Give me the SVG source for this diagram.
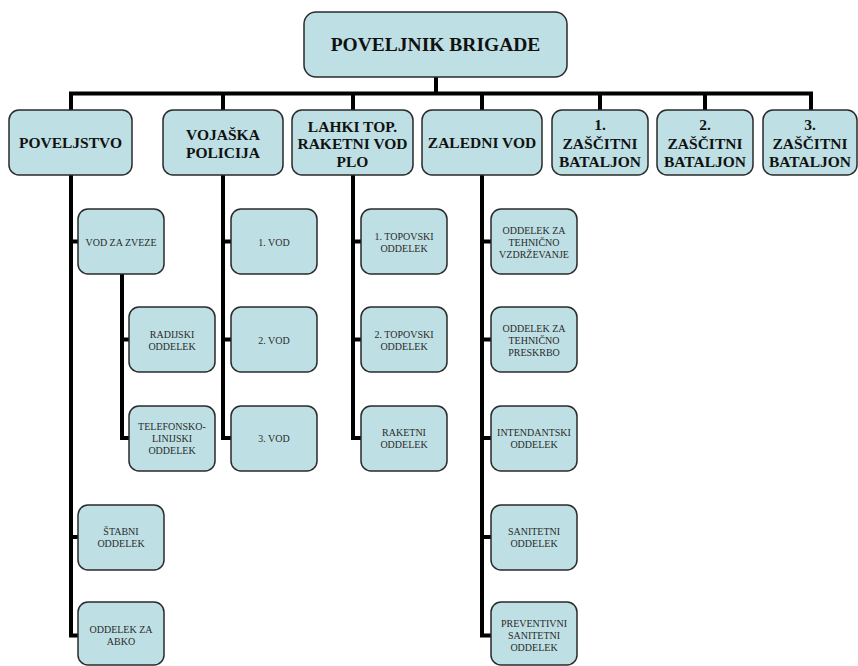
<svg xmlns="http://www.w3.org/2000/svg" width="858" height="666" viewBox="0 0 858 666">
<style>
.b{fill:#bee0e4;stroke:#2a2a2a;stroke-width:1.5}
text{font-family:'Liberation Serif',Tinos,'Times New Roman',Times,'DejaVu Serif',serif;text-anchor:middle}
.t1{font-weight:bold;font-size:19.5px;fill:#111}
.t2{font-weight:bold;font-size:15.5px;fill:#111}
.t3{font-size:10px;fill:#2a2a2a}
.c{fill:none;stroke:#000;stroke-width:4}
</style>
<rect width="858" height="666" fill="#fff"/>
<g id="connectors">
<path class="c" d="M436 77V93.5M69 93.5H813M71 93.5V110M223 93.5V110M353 93.5V110M482 93.5V110M600 93.5V110M705 93.5V110M811 93.5V110"/>
<path class="c" d="M71 175V635.5H78M71 241.5H78M71 537H78"/>
<path class="c" d="M122 274V438H129M122 339.5H129"/>
<path class="c" d="M223 175V438H231M223 241.5H231M223 339.5H231"/>
<path class="c" d="M353 175V438H361M353 241.5H361M353 339.5H361"/>
<path class="c" d="M482 175V635.5H491M482 241.5H491M482 339.5H491M482 438H491M482 537H491"/>
</g>
<g id="n0"><rect class="b" x="304" y="12" width="263" height="65" rx="12"/><text class="t1" x="435.5" y="51">POVELJNIK BRIGADE</text></g>
<g id="n1"><rect class="b" x="9" y="110" width="123" height="65" rx="10"/><text class="t2" x="70.5" y="148">POVELJSTVO</text></g>
<g id="n2"><rect class="b" x="163" y="110" width="120" height="65" rx="10"/><text class="t2" x="223" y="140">VOJAŠKA</text><text class="t2" x="223" y="158">POLICIJA</text></g>
<g id="n3"><rect class="b" x="292" y="110" width="121" height="65" rx="10"/><text class="t2" x="352.5" y="131.5">LAHKI TOP.</text><text class="t2" x="352.5" y="149">RAKETNI VOD</text><text class="t2" x="352.5" y="166.5">PLO</text></g>
<g id="n4"><rect class="b" x="422" y="110" width="120" height="65" rx="10"/><text class="t2" x="482" y="148">ZALEDNI VOD</text></g>
<g id="n5"><rect class="b" x="552" y="110" width="96" height="65" rx="10"/><text class="t2" x="600" y="129.5">1.</text><text class="t2" x="600" y="148.5">ZAŠČITNI</text><text class="t2" x="600" y="167">BATALJON</text></g>
<g id="n6"><rect class="b" x="657" y="110" width="96" height="65" rx="10"/><text class="t2" x="705" y="129.5">2.</text><text class="t2" x="705" y="148.5">ZAŠČITNI</text><text class="t2" x="705" y="167">BATALJON</text></g>
<g id="n7"><rect class="b" x="763" y="110" width="94" height="65" rx="10"/><text class="t2" x="810" y="129.5">3.</text><text class="t2" x="810" y="148.5">ZAŠČITNI</text><text class="t2" x="810" y="167">BATALJON</text></g>
<g id="n8"><rect class="b" x="78" y="209" width="86" height="65" rx="10"/><text class="t3" x="121" y="245.5">VOD ZA ZVEZE</text></g>
<g id="n9"><rect class="b" x="129" y="307" width="86" height="65" rx="10"/><text class="t3" x="172" y="338">RADIJSKI</text><text class="t3" x="172" y="350">ODDELEK</text></g>
<g id="n10"><rect class="b" x="129" y="406" width="86" height="65" rx="10"/><text class="t3" x="172" y="430">TELEFONSKO-</text><text class="t3" x="172" y="442">LINIJSKI</text><text class="t3" x="172" y="454">ODDELEK</text></g>
<g id="n11"><rect class="b" x="78" y="505" width="86" height="65" rx="10"/><text class="t3" x="121" y="535">ŠTABNI</text><text class="t3" x="121" y="547">ODDELEK</text></g>
<g id="n12"><rect class="b" x="78" y="602" width="86" height="63" rx="10"/><text class="t3" x="121" y="633">ODDELEK ZA</text><text class="t3" x="121" y="645">ABKO</text></g>
<g id="n13"><rect class="b" x="231" y="209" width="86" height="65" rx="10"/><text class="t3" x="274" y="245.5">1. VOD</text></g>
<g id="n14"><rect class="b" x="231" y="307" width="86" height="65" rx="10"/><text class="t3" x="274" y="343.5">2. VOD</text></g>
<g id="n15"><rect class="b" x="231" y="406" width="86" height="65" rx="10"/><text class="t3" x="274" y="442">3. VOD</text></g>
<g id="n16"><rect class="b" x="361" y="209" width="86" height="65" rx="10"/><text class="t3" x="404" y="239.5">1. TOPOVSKI</text><text class="t3" x="404" y="251.5">ODDELEK</text></g>
<g id="n17"><rect class="b" x="361" y="307" width="86" height="65" rx="10"/><text class="t3" x="404" y="338">2. TOPOVSKI</text><text class="t3" x="404" y="350">ODDELEK</text></g>
<g id="n18"><rect class="b" x="361" y="406" width="86" height="65" rx="10"/><text class="t3" x="404" y="436">RAKETNI</text><text class="t3" x="404" y="448">ODDELEK</text></g>
<g id="n19"><rect class="b" x="491" y="209" width="86" height="65" rx="10"/><text class="t3" x="534" y="233.5">ODDELEK ZA</text><text class="t3" x="534" y="245.5">TEHNIČNO</text><text class="t3" x="534" y="257.5">VZDRŽEVANJE</text></g>
<g id="n20"><rect class="b" x="491" y="307" width="86" height="65" rx="10"/><text class="t3" x="534" y="332">ODDELEK ZA</text><text class="t3" x="534" y="344">TEHNIČNO</text><text class="t3" x="534" y="356">PRESKRBO</text></g>
<g id="n21"><rect class="b" x="491" y="406" width="86" height="65" rx="10"/><text class="t3" x="534" y="436">INTENDANTSKI</text><text class="t3" x="534" y="448">ODDELEK</text></g>
<g id="n22"><rect class="b" x="491" y="505" width="86" height="65" rx="10"/><text class="t3" x="534" y="535">SANITETNI</text><text class="t3" x="534" y="547">ODDELEK</text></g>
<g id="n23"><rect class="b" x="491" y="602" width="86" height="63" rx="10"/><text class="t3" x="534" y="627">PREVENTIVNI</text><text class="t3" x="534" y="639">SANITETNI</text><text class="t3" x="534" y="651">ODDELEK</text></g>
</svg>
